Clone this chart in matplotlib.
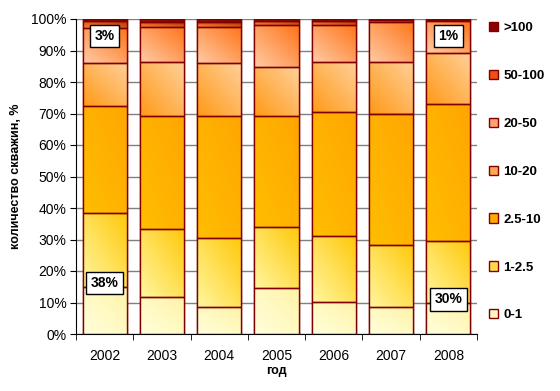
import numpy as np
import matplotlib
matplotlib.use("Agg")
import matplotlib.pyplot as plt
from matplotlib.colors import LinearSegmentedColormap
from matplotlib.patches import Rectangle, Patch

plt.rcParams['font.family'] = ['Liberation Sans', 'DejaVu Sans']

years = ['2002', '2003', '2004', '2005', '2006', '2007', '2008']
series_names = ['0-1', '1-2.5', '2.5-10', '10-20', '20-50', '50-100', '>100']
s_0_1    = [15.0, 11.6, 8.5, 14.5, 10.1, 8.5, 9.7]
s_1_2_5  = [23.3, 21.6, 21.9, 19.4, 20.9, 19.9, 19.9]
s_2_5_10 = [34.0, 35.9, 38.9, 35.4, 39.5, 41.6, 43.3]
s_10_20  = [13.6, 17.1, 16.6, 15.6, 15.7, 16.4, 16.4]
s_20_50  = [11.1, 11.2, 11.5, 13.1, 12.0, 12.7, 10.0]
s_50_100 = [2.5, 1.6, 1.8, 1.4, 1.2, 0.6, 0.4]
s_gt100  = [0.5, 1.0, 0.8, 0.6, 0.6, 0.3, 0.3]
series = [s_0_1, s_1_2_5, s_2_5_10, s_10_20, s_20_50, s_50_100, s_gt100]

# (light, dark, flip) gradient colours per series
grad = [
    ('#FFFFDC', '#FFF3A8', False),
    ('#FFF7A0', '#FFC80A', False),
    ('#FFBE00', '#FFA600', False),
    ('#FFD09A', '#FF9A18', True),
    ('#FFCBA5', '#FF7418', False),
    ('#FF8030', '#A83000', False),
    ('#A01010', '#780000', False),
]
legend_colors = ['#FFF5C0', '#FFDA50', '#FFAA00', '#FFA850', '#FFA070', '#F05010', '#8B0000']
edge = '#800000'

fig = plt.figure(figsize=(5.6, 3.91), dpi=100)
ax = fig.add_axes([76/560, 1-334/391, (477-76)/560, (334-19)/391])

x = np.arange(len(years))
width = 0.77
bottom = np.zeros(len(years))
n = 64
gy, gx = np.mgrid[0:1:n*1j, 0:1:n*1j]
for vals, (cl, cd, flip), lc in zip(series, grad, legend_colors):
    vals = np.array(vals)
    bars = ax.bar(x, vals, width, bottom=bottom, color=lc, edgecolor=edge,
                  linewidth=1, zorder=2)
    cmap = LinearSegmentedColormap.from_list('g', [cl, cd])
    g = (gx + gy) / 2.0
    if flip:
        g = 1 - g
    for p in bars.patches:
        x0, y0 = p.get_xy()
        w, h = p.get_width(), p.get_height()
        im = ax.imshow(g, cmap=cmap, extent=(x0, x0 + w, y0, y0 + h),
                       origin='lower', aspect='auto', zorder=2.1,
                       interpolation='bilinear')
        im.set_clip_path(p)
        ax.add_patch(Rectangle((x0, y0), w, h, fill=False, edgecolor=edge,
                               linewidth=1, zorder=3))
    bottom += vals

ax.set_xlim(-0.5, len(years) - 0.5)
ax.set_ylim(0, 100)
ax.set_yticks(np.arange(0, 101, 10))
ax.set_yticklabels([f'{v}%' for v in range(0, 101, 10)], fontsize=10)
ax.set_xticks(x)
ax.set_xticklabels(years, fontsize=10)
ax.set_xticks(np.arange(-0.5, len(years), 1), minor=True)
ax.tick_params(axis='x', which='major', length=0, pad=11)
ax.tick_params(axis='x', which='minor', length=4, direction='out', color='black')
ax.tick_params(axis='y', length=4, direction='out', color='black', pad=3)
ax.yaxis.grid(True, color='#808080', linewidth=1)
ax.set_axisbelow(True)
for s in ['top', 'right']:
    ax.spines[s].set_visible(False)
ax.spines['left'].set_color('black')
ax.spines['bottom'].set_color('black')

ax.set_ylabel('количество скважин, %', fontsize=9, fontweight='bold', labelpad=6)
ax.set_xlabel('год', fontsize=9, fontweight='bold', labelpad=1)

# data labels
low0 = round(s_0_1[0] + s_1_2_5[0])
low6 = round(s_0_1[-1] + s_1_2_5[-1])
top0 = round(s_50_100[0] + s_gt100[0])
top6 = round(s_50_100[-1] + s_gt100[-1])
box = dict(boxstyle='square,pad=0.32', facecolor='white', edgecolor='black', linewidth=1)
for xi, yi, t in [(0, 16.2, f'{low0}%'), (6, 11.0, f'{low6}%'),
                  (0, 94.6, f'{top0}%'), (6, 94.6, f'{top6}%')]:
    ax.text(xi, yi, t, ha='center', va='center', fontsize=10, fontweight='bold',
            bbox=box, zorder=5)

handles = [Patch(facecolor=c, edgecolor=edge, linewidth=1) for c in legend_colors]
leg = fig.legend(handles[::-1], series_names[::-1], loc='upper left',
                 bbox_to_anchor=(489/560, 1-22/391), frameon=False,
                 prop={'size': 9.5, 'weight': 'bold'}, handlelength=0.7,
                 handleheight=0.7, handletextpad=0.4, labelspacing=2.7,
                 borderaxespad=0, borderpad=0)

fig.savefig('out.png', dpi=100)
